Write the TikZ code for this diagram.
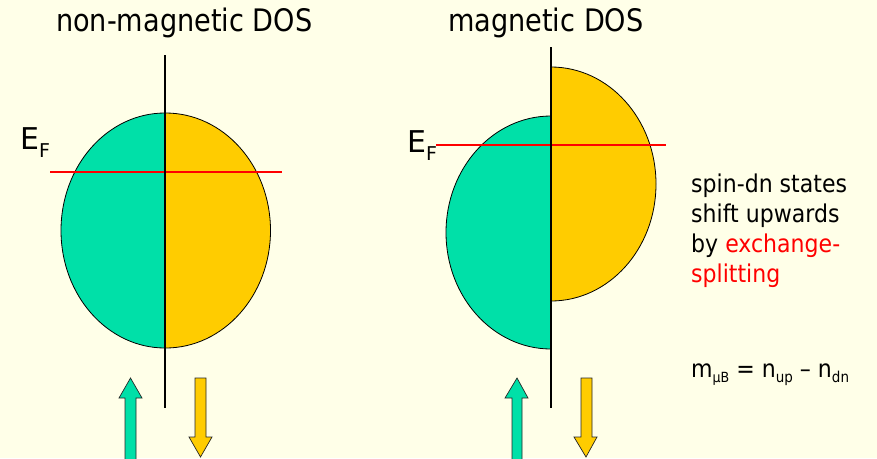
\documentclass[tikz,border=0pt]{standalone}
\usepackage{fontspec}
\setmainfont{DejaVu Sans}
\newfontfamily\titlefont[FakeStretch=0.875]{DejaVu Sans}
\newfontfamily\notefont[FakeStretch=0.9]{DejaVu Sans}
\definecolor{spinup}{HTML}{00E0A8}
\definecolor{spindn}{HTML}{FFCC00}
\definecolor{paper}{HTML}{FFFFE8}
\definecolor{fermi}{HTML}{FF0000}

\begin{document}
\begin{tikzpicture}[x=1pt, y=-1pt,
    dos/.style={draw=black, line width=0.8pt},
    axis/.style={line width=2pt, black},
    level/.style={line width=2.5pt, fermi},
    spinarrow/.style={draw=black!85, line width=0.7pt, line join=miter},
    title/.style={anchor=base west, inner sep=0pt, font=\titlefont\fontsize{31}{36}\selectfont},
    efermi/.style={anchor=base west, inner sep=0pt, font=\fontsize{30}{36}\selectfont},
    note/.style={anchor=base west, inner sep=0pt, align=left, font=\notefont\fontsize{24.5}{30}\selectfont}]

  \clip (0,0) rectangle (877,458);
  \fill[paper] (0,0) rectangle (877,458);

  % non-magnetic DOS: both spin halves at the same height
  \begin{scope}
    \clip (0,0) rectangle (165,458);
    \draw[dos, fill=spinup] (165,230.5) ellipse [x radius=104, y radius=117.5];
  \end{scope}
  \begin{scope}
    \clip (165,0) rectangle (400,458);
    \draw[dos, fill=spindn] (165.5,230.5) ellipse [x radius=105, y radius=117.5];
  \end{scope}
  \coordinate (fl0) at (50,172);
  \coordinate (fl1) at (282,172);
  \draw[level] (fl0) -- (fl1);
  \coordinate (ax0) at (165,55);
  \coordinate (ax1) at (165,408);
  \draw[axis] (ax0) -- (ax1);
  \node[title] (nmtitle) at (56,31) {non-magnetic DOS};
  \node[efermi] (nmef) at (20,149) {E\raisebox{-8pt}{\fontsize{19}{19}\selectfont F}};
  \draw[spinarrow, fill=spinup] (125,465) -- (125,398) -- (119,398) -- (130.5,378)
    -- (142,398) -- (136,398) -- (136,465) -- cycle;
  \draw[spinarrow, fill=spindn] (195,378) -- (206,378) -- (206,437) -- (212,437)
    -- (200.5,457) -- (189,437) -- (195,437) -- cycle;

  % magnetic DOS: spin-dn half shifted up
  \begin{scope}
    \clip (0,0) rectangle (551,458);
    \draw[dos, fill=spinup] (551,232.5) ellipse [x radius=105, y radius=116.5];
  \end{scope}
  \begin{scope}
    \clip (551,0) rectangle (877,458);
    \draw[dos, fill=spindn] (551,184) ellipse [x radius=105, y radius=117];
  \end{scope}
  \coordinate (fm0) at (436,145);
  \coordinate (fm1) at (666,145);
  \draw[level] (fm0) -- (fm1);
  \coordinate (bx0) at (551,47);
  \coordinate (bx1) at (551,408);
  \draw[axis] (bx0) -- (bx1);
  \node[title] (mtitle) at (448,31) {magnetic DOS};
  \node[efermi] (mef) at (407,152) {E\raisebox{-8pt}{\fontsize{19}{19}\selectfont F}};
  \draw[spinarrow, fill=spinup] (512,465) -- (512,398) -- (505,398) -- (517,378)
    -- (528,398) -- (522,398) -- (522,465) -- cycle;
  \draw[spinarrow, fill=spindn] (581,378) -- (592,378) -- (592,437) -- (597,437)
    -- (586,457) -- (574,437) -- (581,437) -- cycle;

  % explanation
  \node[note] (shift) at (691,282) {spin-dn states\\shift upwards\\by \textcolor{fermi}{exchange-}\\\textcolor{fermi}{splitting}};
  \node[note] (moment) at (691,377) {m\raisebox{-5pt}{\fontsize{14}{14}\selectfont μB} = n\raisebox{-5pt}{\fontsize{15}{15}\selectfont up} – n\raisebox{-5pt}{\fontsize{15}{15}\selectfont dn}};
\end{tikzpicture}
\end{document}
